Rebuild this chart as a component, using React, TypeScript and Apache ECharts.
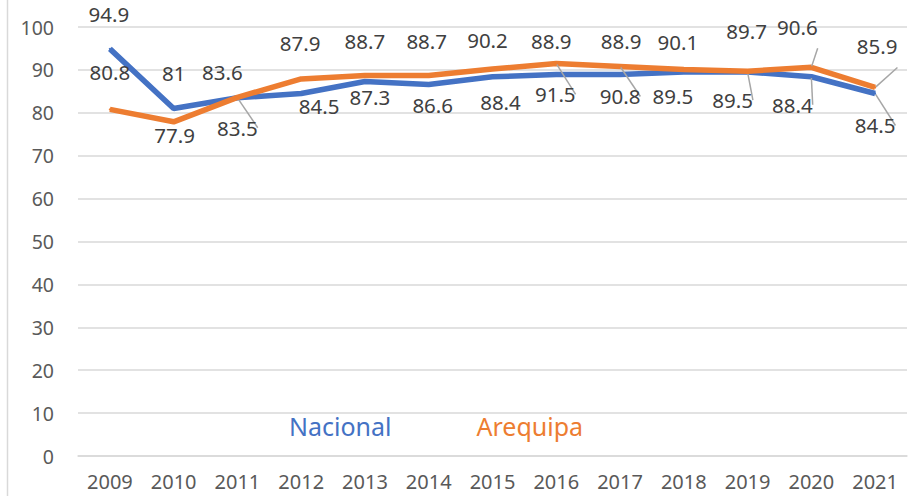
import React, { useEffect, useRef } from "react";
import * as echarts from "echarts";

const years = ["2009", "2010", "2011", "2012", "2013", "2014", "2015", "2016", "2017", "2018", "2019", "2020", "2021"];
const nacional = [94.9, 81, 83.5, 84.5, 87.3, 86.6, 88.4, 88.9, 88.9, 89.5, 89.5, 88.4, 84.5];
const arequipa = [80.8, 77.9, 83.6, 87.9, 88.7, 88.7, 90.2, 91.5, 90.8, 90.1, 89.7, 90.6, 85.9];

// label placement (pixel offsets of label centre from the point) and leader lines
const nacionalLabelOffsets = [[-1, -35], [0, -36], [0, 30], [18, 13], [5, 16], [4, 21], [8, 25], [-5, -34], [1, -34], [-11, 24], [-15, 28], [-19, 28], [0, 32]];
const nacionalLeaders = [false, false, true, false, false, false, false, false, false, false, true, true, true];
const arequipaLabelOffsets = [[0, -37], [1, 13], [-15, -25], [-1, -36], [0, -34], [-2, -34], [-5, -29], [-1, 31], [0, 30], [-6, -27], [-1, -40], [-14, -40], [2, -41]];
const arequipaLeaders = [false, false, false, false, false, false, false, true, true, false, false, true, true];

const FONT = "Noto Sans";
const BLUE = "#4472C4";
const ORANGE = "#ED7D31";

function buildData(values: number[], offsets: number[][], leaders: boolean[]) {
  return values.map((v, i) => ({
    value: v,
    label: { offset: offsets[i] },
    labelLine: { show: leaders[i] },
  }));
}

export default function App() {
  const ref = useRef<HTMLDivElement>(null);
  useEffect(() => {
    if (!ref.current) return;
    const chart = echarts.init(ref.current, undefined, { renderer: "svg" });
    const labelCommon = {
      show: true,
      position: "inside",
      fontFamily: FONT,
      fontSize: 20.5,
      color: "#404040",
    };
    const labelLineCommon = {
      show: false,
      lineStyle: { color: "#A6A6A6", width: 1.5 },
    };
    chart.setOption({
      animation: false,
      backgroundColor: "#ffffff",
      grid: { left: 78, right: 14, top: 27, bottom: 40 },
      graphic: [
        {
          type: "line",
          shape: { x1: 7.5, y1: 0, x2: 7.5, y2: 496 },
          style: { stroke: "#D9D9D9", lineWidth: 1.5 },
        },
      ],
      legend: {
        left: 279,
        top: 408,
        icon: "none",
        itemWidth: 0,
        itemGap: 80,
        textStyle: { fontFamily: FONT, fontSize: 25 },
        data: [
          { name: "Nacional", textStyle: { color: BLUE } },
          { name: "Arequipa", textStyle: { color: ORANGE } },
        ],
      },
      xAxis: {
        type: "category",
        data: years,
        boundaryGap: true,
        axisLine: { show: true, lineStyle: { color: "#D9D9D9", width: 1.5 } },
        axisTick: { show: false },
        axisLabel: { fontFamily: FONT, fontSize: 20, color: "#595959", margin: 15 },
      },
      yAxis: {
        type: "value",
        min: 0,
        max: 100,
        interval: 10,
        axisLine: { show: false },
        axisTick: { show: false },
        axisLabel: { fontFamily: FONT, fontSize: 19.5, color: "#595959", margin: 24, padding: [0, 0, 7, 0] },
        splitLine: { lineStyle: { color: "#D9D9D9", width: 1.5 } },
      },
      series: [
        {
          name: "Nacional",
          type: "line",
          data: buildData(nacional, nacionalLabelOffsets, nacionalLeaders),
          symbol: "circle",
          symbolSize: 2,
          showSymbol: true,
          itemStyle: { color: BLUE },
          lineStyle: { color: BLUE, width: 5.5 },
          label: labelCommon,
          labelLine: labelLineCommon,
          z: 2,
        },
        {
          name: "Arequipa",
          type: "line",
          data: buildData(arequipa, arequipaLabelOffsets, arequipaLeaders),
          symbol: "circle",
          symbolSize: 2,
          showSymbol: true,
          itemStyle: { color: ORANGE },
          lineStyle: { color: ORANGE, width: 5.5 },
          label: labelCommon,
          labelLine: labelLineCommon,
          z: 3,
        },
      ],
    });
    return () => chart.dispose();
  }, []);
  return (
    <div
      ref={ref}
      style={{ position: "absolute", left: 0, top: 0, width: 921, height: 496 }}
    />
  );
}
